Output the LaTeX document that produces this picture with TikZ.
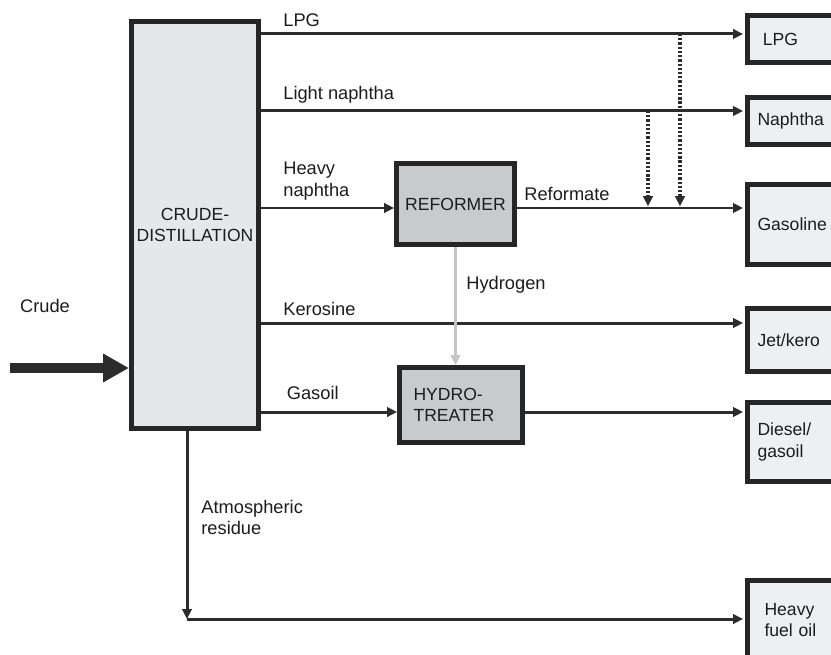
\documentclass[tikz,border=0pt]{standalone}
\usepackage{fontspec}
\setmainfont{Liberation Sans}
\usetikzlibrary{arrows.meta,positioning}
\definecolor{ink}{HTML}{1C1C1C}
\definecolor{edge}{HTML}{262626}
\definecolor{pipe}{HTML}{2C2C2C}
\definecolor{unitbg}{HTML}{E6E7E9}
\definecolor{procbg}{HTML}{C9CACC}
\definecolor{prodbg}{HTML}{EEEFF0}
\definecolor{hgray}{HTML}{C4C4C4}
\tikzset{
  >={Triangle[length=0.2cm,width=0.19cm]},
  every node/.style={font=\fontsize{10}{12.2}\selectfont,text=ink},
  unit/.style={draw=edge,line width=0.1cm,fill=unitbg,align=center,inner sep=0pt},
  proc/.style={unit,fill=procbg},
  prod/.style={draw=edge,line width=0.1cm,fill=prodbg,align=left,text width=1.6cm,inner xsep=0.2cm,inner ysep=0pt,minimum width=2cm,anchor=west},
  flow/.style={->,line width=0.06cm,draw=pipe},
  feed/.style={-{Triangle[length=0.52cm,width=0.54cm]},line width=0.2cm,draw=pipe},
  h2flow/.style={->,line width=0.06cm,draw=hgray},
  blend/.style={->,line width=0.07cm,draw=pipe,dash pattern=on 1.3pt off 1.1pt,shorten >=1pt},
  flowlabel/.style={pos=0,anchor=south west,align=left,font=\fontsize{10.4}{12.5}\selectfont},
  cdulabel/.style={flowlabel,xshift=0.3cm}
}
\begin{document}
\begin{tikzpicture}[x=0.02cm,y=-0.02cm]
  \useasboundingbox (0,0) rectangle (831,655);

  % units
  \node[unit,minimum width=2.54cm,minimum height=8.14cm] (cdu) at (195,225) {CRUDE-\\DISTILLATION};
  \node[proc,minimum width=2.36cm,minimum height=1.62cm] (reformer) at (455.5,204) {REFORMER};
  \node[proc,minimum width=2.46cm,minimum height=1.5cm,align=left,text width=1.9cm,inner xsep=0.28cm] (hydro) at (461,405) {HYDRO-\\TREATER};

  % products
  \node[prod,minimum height=0.94cm] (lpg) at (745,39) {\hspace{3pt}LPG};
  \node[prod,minimum height=0.94cm] (naphtha) at (745,121) {Naphtha};
  \node[prod,minimum height=1.6cm] (gasoline) at (745,224.5) {Gasoline};
  \node[prod,minimum height=1.26cm] (jet) at (745,340) {Jet/kero};
  \node[prod,minimum height=1.58cm] (diesel) at (745,442) {Diesel/\\gasoil};
  \node[prod,minimum height=1.6cm] (hfo) at (745,620) {\hspace{4pt}Heavy\\\hspace{4pt}fuel oil};

  \coordinate (lpgin) at (743,34);
  \coordinate (naphin) at (743,111);
  \coordinate (gasin) at (743,208);
  \coordinate (jetin) at (743,323);
  \coordinate (dslin) at (743,412);
  \coordinate (hfoin) at (743,619);
  \coordinate (crudein) at (10,368);
  \coordinate (resbend) at (187,619);
  \coordinate (lpgtap) at (680,34);
  \coordinate (naphtap) at (648,111);

  % crude feed
  \draw[feed] (crudein) -- (cdu.west |- crudein);
  \node[font=\fontsize{10.4}{12.5}\selectfont] (crude) at (45,306) {Crude};

  % side streams
  \draw[flow] (cdu.east |- lpgin) -- node[cdulabel]{LPG} (lpgin);
  \draw[flow] (cdu.east |- naphin) -- node[cdulabel]{Light naphtha} (naphin);
  \draw[flow] (cdu.east |- gasin) -- node[cdulabel]{Heavy\\naphtha} (reformer.west |- gasin);
  \draw[flow] (reformer.east |- gasin) -- node[flowlabel]{Reformate} (gasin);
  \draw[flow] (cdu.east |- jetin) -- node[cdulabel]{Kerosine} (jetin);
  \draw[flow] (cdu.east |- dslin) -- node[cdulabel,yshift=3pt,xshift=2pt]{Gasoil} (hydro.west |- dslin);
  \draw[flow] (hydro.east |- dslin) -- (dslin);
  \draw[h2flow] (reformer.south) -- node[pos=0.32,right,xshift=2pt,font=\fontsize{10.4}{12.5}\selectfont]{Hydrogen} (reformer.south |- hydro.north);
  \draw[flow] (cdu.south -| resbend) -- node[pos=0.46,right,align=left,xshift=4pt,font=\fontsize{10.4}{12.5}\selectfont]{Atmospheric\\residue} (resbend);
  \draw[flow] (resbend) -- (hfoin);

  % blending
  \draw[blend] (lpgtap) -- (lpgtap |- gasin);
  \draw[blend] (naphtap) -- (naphtap |- gasin);
\end{tikzpicture}
\end{document}
